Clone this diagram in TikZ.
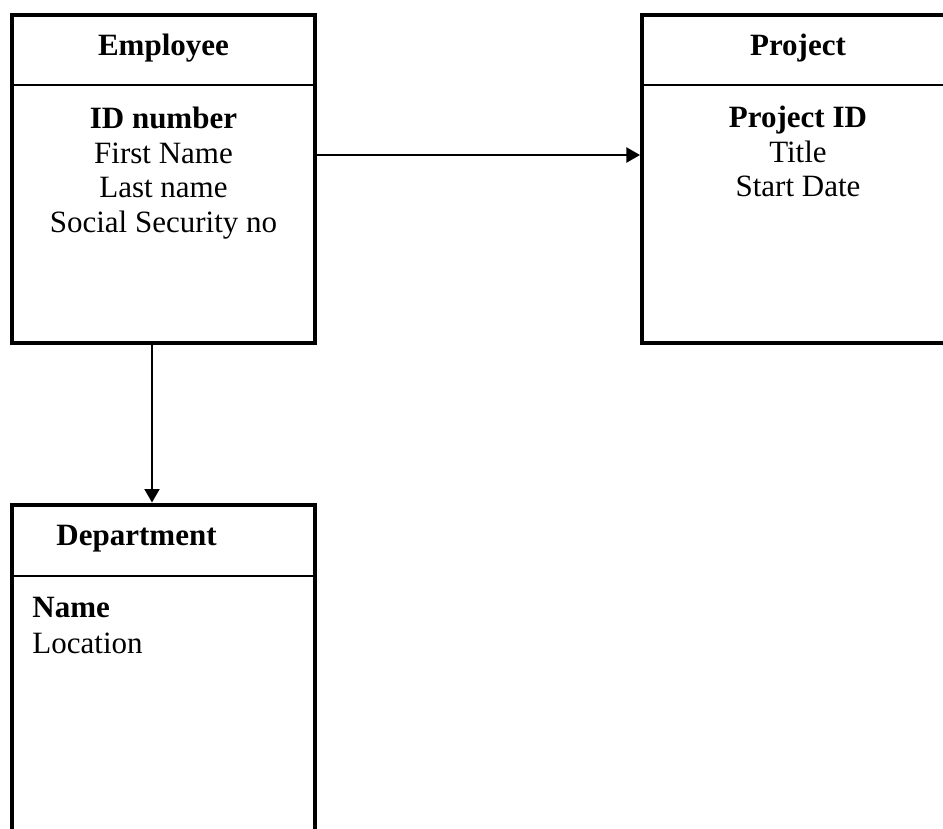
\documentclass[tikz,border=0pt]{standalone}
\usepackage{fontspec}
\setmainfont{Liberation Serif}
\usetikzlibrary{arrows.meta}

\begin{document}
\begin{tikzpicture}[x=0.4pt, y=-0.4pt,
        entity/.style={draw, line width=1.6pt, minimum width=121.2pt, minimum height=131pt},
        title/.style={font=\fontsize{12.4pt}{13.8pt}\selectfont\bfseries, anchor=base, inner sep=0pt},
        attrs/.style={font=\fontsize{12.4pt}{13.8pt}\selectfont, align=center, anchor=base, inner sep=0pt},
        divider/.style={line width=0.8pt},
        link/.style={line width=0.8pt, -{Triangle[length=5.4pt, width=6pt]}}]
    \useasboundingbox (0,0) rectangle (943,829);

    \node [entity] (emp) at (163.5,178.75) {};
    \node [entity, minimum width=124.8pt] (proj) at (798,178.75) {};
    \node [entity, minimum height=134pt] (dept) at (163.5,672) {};

    \draw [divider] ([yshift=-28.8pt]emp.north west) -- ([yshift=-28.8pt]emp.north east);
    \draw [divider] ([yshift=-28.6pt]proj.north west) -- ([yshift=-28.6pt]proj.north east);
    \draw [divider] ([yshift=-29.4pt]dept.north west) -- ([yshift=-29.4pt]dept.north east);

    % base of a multi-line node is its last line
    \node [title] (empname) at ([yshift=-16.8pt]emp.north) {Employee};
    \node [attrs] (empattr) at ([yshift=-87.6pt]emp.north) {\textbf{ID number}\\First Name\\Last name\\Social Security no};

    \node [title] (projname) at ([yshift=-16.8pt]proj.north) {Project};
    \node [attrs] (projattr) at ([yshift=-73.4pt]proj.north) {\textbf{Project ID}\\Title\\Start Date};

    \node [title, anchor=base west] (deptname) at ([xshift=18.4pt, yshift=-17pt]dept.north west) {Department};
    \node [attrs, align=left, anchor=base west, font=\fontsize{12.4pt}{14.4pt}\selectfont] (deptattr)
        at ([xshift=8.8pt, yshift=-60.2pt]dept.north west) {\textbf{Name}\\Location};

    \draw [link] ([yshift=9.5pt]emp.east) -- ([yshift=9.5pt]proj.west);
    \draw [link] ([xshift=-4.6pt]emp.south) -- ([xshift=-4.6pt]dept.north);
\end{tikzpicture}
\end{document}
